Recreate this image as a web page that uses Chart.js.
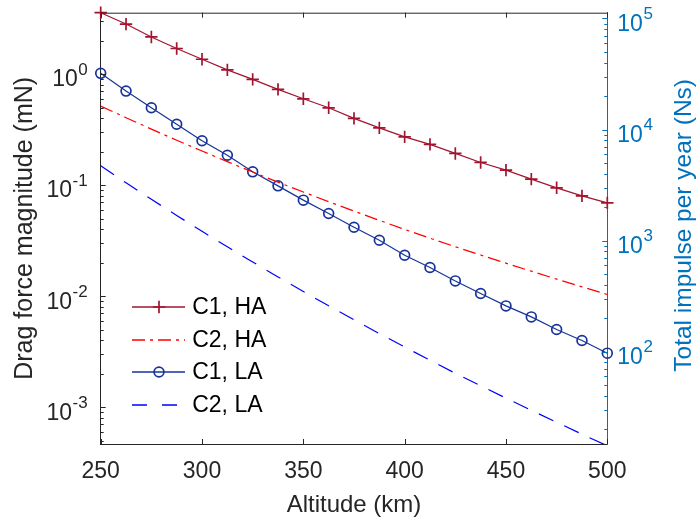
<!DOCTYPE html>
<html><head><meta charset="utf-8">
<script src="https://cdn.jsdelivr.net/npm/chart.js@4/dist/chart.umd.min.js"></script>
<style>html,body{margin:0;padding:0;background:#fff;overflow:hidden}canvas{display:block}</style>
</head><body>
<canvas id="c" width="697" height="524"></canvas>
<script>
// ---- data ----
const altitudes = [250, 262.5, 275, 287.5, 300, 312.5, 325, 337.5, 350, 362.5, 375, 387.5, 400, 412.5, 425, 437.5, 450, 462.5, 475, 487.5, 500];
const c1HA = [3.57, 2.82, 2.16, 1.70, 1.36, 1.09, 0.896, 0.728, 0.599, 0.497, 0.399, 0.328, 0.272, 0.233, 0.193, 0.160, 0.1365, 0.1132, 0.0946, 0.0801, 0.0692];
const c2HA = [0.515, 0.405, 0.3195, 0.2538, 0.2028, 0.1628, 0.1312, 0.1064, 0.0867, 0.0710, 0.0584, 0.0482, 0.0399, 0.0333, 0.0279, 0.02348, 0.01983, 0.01680, 0.01427, 0.01215, 0.01037];
const c1LA = [1.015, 0.703, 0.497, 0.353, 0.251, 0.186, 0.1318, 0.0985, 0.0733, 0.0556, 0.0418, 0.0319, 0.0234, 0.01814, 0.01373, 0.01058, 0.00818, 0.00651, 0.00501, 0.00399, 0.00307];
const c2LA = [0.1492, 0.1051, 0.0746, 0.0533, 0.0384, 0.02786, 0.02032, 0.01492, 0.01102, 0.00819, 0.00613, 0.00461, 0.003486, 0.002651, 0.002024, 0.001562, 0.001208, 0.000938, 0.000733, 0.000572, 0.000450];
const seriesNames = ['C1, HA', 'C2, HA', 'C1, LA', 'C2, LA'];
const xTicks = [250, 300, 350, 400, 450, 500];
const leftTicks = [1e-3, 1e-2, 1e-1, 1];
const leftTickExponents = ['-3', '-2', '-1', '0'];
const rightTicks = [1e2, 1e3, 1e4, 1e5];
const rightTickExponents = ['2', '3', '4', '5'];
const mNtoNsPerYear = 31557.6; // 1 mN sustained for one year, in N·s
const yRange = [4.67e-4, 3.57];
const xRange = [250, 500];

// ---- styles ----
const FONT = '"Liberation Sans", Arial, Helvetica, sans-serif';
const AX = '#262626', BLUE = '#0072BD';
const FS = 23, FS_EXP = 17, FS_TITLE = 25;
const seriesColors = ['#A2142F', '#FF0000', '#17339A', '#0000FF'];
const seriesDashes = [[], [13, 5, 3, 5], [], [16, 12]];
const legendDashes = [[], [13, 5, 3, 5], [], [15, 15]];
Chart.defaults.font.family = FONT;

const pts = arr => altitudes.map((x, i) => ({x, y: arr[i]}));
const datasets = [
  {label: seriesNames[0], data: pts(c1HA), borderColor: seriesColors[0], backgroundColor: seriesColors[0], borderWidth: 1.2,
   pointStyle: 'cross', pointRadius: 6.2, pointBorderWidth: 1.7, pointBorderColor: seriesColors[0], clip: false},
  {label: seriesNames[1], data: pts(c2HA), borderColor: seriesColors[1], backgroundColor: seriesColors[1], borderWidth: 1.2, borderDash: seriesDashes[1], pointRadius: 0},
  {label: seriesNames[2], data: pts(c1LA), borderColor: seriesColors[2], backgroundColor: seriesColors[2], borderWidth: 1.2,
   pointStyle: 'circle', pointRadius: 4.9, pointBorderWidth: 1.7, pointBorderColor: seriesColors[2], pointBackgroundColor: 'rgba(0,0,0,0)', clip: false},
  {label: seriesNames[3], data: pts(c2LA), borderColor: seriesColors[3], backgroundColor: seriesColors[3], borderWidth: 1.2, borderDash: seriesDashes[3], pointRadius: 0},
];

const noPad = s => { s.paddingTop = 0; s.paddingBottom = 0; s.paddingLeft = 0; s.paddingRight = 0; };

// inward ticks, top box line, power-of-ten tick labels, legend, right title
const decorPlugin = {
  id: 'decor',
  afterDraw(chart) {
    const {ctx, chartArea: ca, scales} = chart;
    const x = scales.x, y = scales.y, y2 = scales.y2;
    ctx.save();
    ctx.lineWidth = 1;
    ctx.strokeStyle = AX;
    ctx.beginPath(); ctx.moveTo(ca.left, ca.top + 0.5); ctx.lineTo(ca.right, ca.top + 0.5); ctx.stroke();
    ctx.beginPath();
    xTicks.forEach(v => {
      const px = Math.round(x.getPixelForValue(v)) + 0.5;
      ctx.moveTo(px, ca.bottom); ctx.lineTo(px, ca.bottom - 5);
      ctx.moveTo(px, ca.top); ctx.lineTo(px, ca.top + 5);
    });
    ctx.stroke();
    function logTicks(scale, xEdge, dir, color) {
      ctx.strokeStyle = color;
      ctx.beginPath();
      const lo = Math.floor(Math.log10(scale.min)), hi = Math.ceil(Math.log10(scale.max));
      for (let k = lo; k <= hi; k++) {
        for (let m = 1; m <= 9; m++) {
          const v = m * Math.pow(10, k);
          if (v < scale.min || v > scale.max) continue;
          const py = Math.round(scale.getPixelForValue(v)) + 0.5;
          const len = m === 1 ? 5 : 3;
          ctx.moveTo(xEdge, py); ctx.lineTo(xEdge + dir * len, py);
        }
      }
      ctx.stroke();
    }
    logTicks(y, ca.left, 1, AX);
    logTicks(y2, ca.right, -1, BLUE);

    function powLabels(scale, ticks, exps, xAnchor, alignRight, color) {
      ctx.fillStyle = color;
      ctx.textBaseline = 'middle';
      ticks.forEach((v, i) => {
        const py = scale.getPixelForValue(v);
        ctx.font = FS + 'px ' + FONT;
        const wBase = ctx.measureText('10').width;
        ctx.font = FS_EXP + 'px ' + FONT;
        const wExp = ctx.measureText(exps[i]).width;
        const x0 = alignRight ? xAnchor - wBase - wExp - 0.5 : xAnchor;
        ctx.textAlign = 'left';
        ctx.font = FS + 'px ' + FONT;
        ctx.fillText('10', x0, py + 6);
        ctx.font = FS_EXP + 'px ' + FONT;
        ctx.fillText(exps[i], x0 + wBase + 0.5, py - 4);
      });
    }
    powLabels(y, leftTicks, leftTickExponents, ca.left - 13, true, AX);
    powLabels(y2, rightTicks, rightTickExponents, ca.right + 10, false, BLUE);

    ctx.fillStyle = BLUE;
    ctx.font = '24.5px ' + FONT;
    ctx.textAlign = 'center'; ctx.textBaseline = 'middle';
    ctx.translate(684, (ca.top + ca.bottom) / 2 - 3);
    ctx.rotate(-Math.PI / 2);
    ctx.fillText('Total impulse per year (Ns)', 0, 0);
    ctx.restore();

    // legend
    ctx.save();
    const x0 = Math.round(ca.left + 31), x1 = Math.round(ca.left + 84), tx = ca.left + 91.5;
    const rowTop = ca.top + 294, rowH = 32.8;
    chart.data.datasets.forEach((ds, i) => {
      const yy = Math.round(rowTop + i * rowH);
      ctx.strokeStyle = seriesColors[i]; ctx.lineWidth = 1.7;
      ctx.setLineDash(legendDashes[i]);
      ctx.beginPath(); ctx.moveTo(x0, yy); ctx.lineTo(x1, yy); ctx.stroke();
      ctx.setLineDash([]);
      const mx = Math.round((x0 + x1) / 2);
      if (ds.pointStyle === 'cross') {
        ctx.lineWidth = ds.pointBorderWidth;
        const r = ds.pointRadius;
        ctx.beginPath(); ctx.moveTo(mx - r, yy); ctx.lineTo(mx + r, yy); ctx.moveTo(mx, yy - r); ctx.lineTo(mx, yy + r); ctx.stroke();
      } else if (ds.pointStyle === 'circle' && ds.pointRadius > 0) {
        ctx.lineWidth = ds.pointBorderWidth;
        ctx.beginPath(); ctx.arc(mx, yy, ds.pointRadius, 0, Math.PI * 2); ctx.stroke();
      }
      ctx.fillStyle = '#000';
      ctx.font = FS + 'px ' + FONT;
      ctx.textAlign = 'left'; ctx.textBaseline = 'middle';
      ctx.fillText(ds.label, tx, yy + 1);
    });
    ctx.restore();
  }
};

new Chart(document.getElementById('c'), {
  type: 'line',
  data: {datasets},
  options: {
    responsive: false,
    animation: false,
    devicePixelRatio: 1,
    layout: {padding: {top: 12.7, left: 0, right: 0, bottom: 0}},
    elements: {line: {tension: 0}},
    plugins: {legend: {display: false}, tooltip: {enabled: false}, colors: {enabled: false}},
    scales: {
      x: {
        type: 'linear', position: 'bottom', min: xRange[0], max: xRange[1],
        afterBuildTicks: s => { s.ticks = xTicks.map(v => ({value: v})); },
        grid: {display: false, drawTicks: false},
        border: {display: true, color: AX, width: 1},
        ticks: {color: AX, font: {size: FS}, padding: 13.5, maxRotation: 0, callback: v => String(v)},
        title: {display: true, text: 'Altitude (km)', color: AX, font: {size: 24}, padding: {top: 0, bottom: 4}},
        afterFit: s => { noPad(s); s.height = 80; }
      },
      y: {
        type: 'logarithmic', position: 'left', min: yRange[0], max: yRange[1],
        afterBuildTicks: s => { s.ticks = leftTicks.map(v => ({value: v})); },
        grid: {display: false, drawTicks: false},
        border: {display: true, color: AX, width: 1},
        ticks: {display: false},
        title: {display: true, text: 'Drag force magnitude (mN)', color: AX, font: {size: FS_TITLE}, padding: {top: 10, bottom: 0}},
        afterFit: s => { noPad(s); s.width = 100.7; }
      },
      y2: {
        type: 'logarithmic', position: 'right', min: yRange[0] * mNtoNsPerYear, max: yRange[1] * mNtoNsPerYear,
        afterBuildTicks: s => { s.ticks = rightTicks.map(v => ({value: v})); },
        grid: {display: false, drawTicks: false},
        border: {display: true, color: BLUE, width: 1},
        ticks: {display: false},
        afterFit: s => { noPad(s); s.width = 89.7; }
      }
    }
  },
  plugins: [decorPlugin]
});
</script>
</body></html>
